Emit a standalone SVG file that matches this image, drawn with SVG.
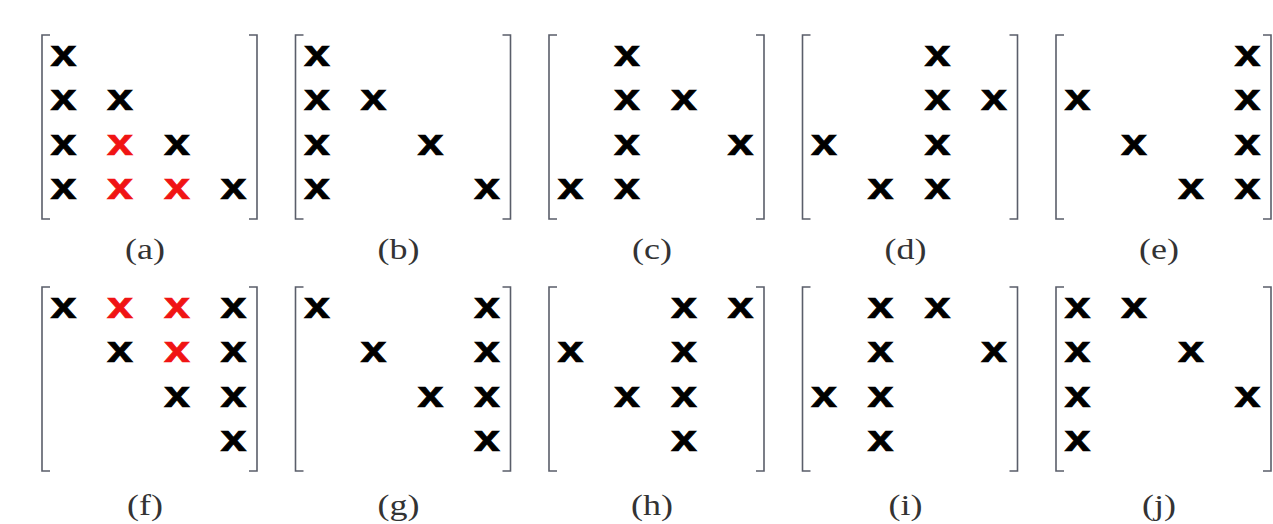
<svg xmlns="http://www.w3.org/2000/svg" width="1273" height="524" viewBox="0 0 1273 524">
<style>
.br{fill:none;stroke:#5a5e6a;stroke-width:1.6}
.x{font-family:"Liberation Sans",Arial,sans-serif;font-weight:bold;font-size:36px;fill:#000;stroke:#000;stroke-width:0.7}
.r{fill:#f01414;stroke:#f01414}
.lb{font-family:"Liberation Serif","Times New Roman",serif;font-size:30px;fill:#333;text-anchor:middle}
</style>
<defs>
<path id="brk" class="br" d="M8,0 H0 V184 H8 M207,0 H215 V184 H207"/>
</defs>
<rect width="1273" height="524" fill="#fff"/>

<g id="panel-a" transform="translate(42,35)">
<use href="#brk"/>
<text class="x" x="8.5" y="31" textLength="26" lengthAdjust="spacingAndGlyphs">x</text>
<text class="x" x="8.5" y="75" textLength="26" lengthAdjust="spacingAndGlyphs">x</text>
<text class="x" x="65" y="75" textLength="26" lengthAdjust="spacingAndGlyphs">x</text>
<text class="x" x="8.5" y="119.5" textLength="26" lengthAdjust="spacingAndGlyphs">x</text>
<text class="x r" x="65" y="119.5" textLength="26" lengthAdjust="spacingAndGlyphs">x</text>
<text class="x" x="122" y="119.5" textLength="26" lengthAdjust="spacingAndGlyphs">x</text>
<text class="x" x="8.5" y="163.5" textLength="26" lengthAdjust="spacingAndGlyphs">x</text>
<text class="x r" x="65" y="163.5" textLength="26" lengthAdjust="spacingAndGlyphs">x</text>
<text class="x r" x="122" y="163.5" textLength="26" lengthAdjust="spacingAndGlyphs">x</text>
<text class="x" x="178.5" y="163.5" textLength="26" lengthAdjust="spacingAndGlyphs">x</text>
<text class="lb" transform="translate(103,224) scale(1.2,1)">(a)</text>
</g>

<g id="panel-b" transform="translate(295.5,35)">
<use href="#brk"/>
<text class="x" x="8.5" y="31" textLength="26" lengthAdjust="spacingAndGlyphs">x</text>
<text class="x" x="8.5" y="75" textLength="26" lengthAdjust="spacingAndGlyphs">x</text>
<text class="x" x="65" y="75" textLength="26" lengthAdjust="spacingAndGlyphs">x</text>
<text class="x" x="8.5" y="119.5" textLength="26" lengthAdjust="spacingAndGlyphs">x</text>
<text class="x" x="122" y="119.5" textLength="26" lengthAdjust="spacingAndGlyphs">x</text>
<text class="x" x="8.5" y="163.5" textLength="26" lengthAdjust="spacingAndGlyphs">x</text>
<text class="x" x="178.5" y="163.5" textLength="26" lengthAdjust="spacingAndGlyphs">x</text>
<text class="lb" transform="translate(103,224) scale(1.2,1)">(b)</text>
</g>

<g id="panel-c" transform="translate(549,35)">
<use href="#brk"/>
<text class="x" x="65" y="31" textLength="26" lengthAdjust="spacingAndGlyphs">x</text>
<text class="x" x="65" y="75" textLength="26" lengthAdjust="spacingAndGlyphs">x</text>
<text class="x" x="122" y="75" textLength="26" lengthAdjust="spacingAndGlyphs">x</text>
<text class="x" x="65" y="119.5" textLength="26" lengthAdjust="spacingAndGlyphs">x</text>
<text class="x" x="178.5" y="119.5" textLength="26" lengthAdjust="spacingAndGlyphs">x</text>
<text class="x" x="8.5" y="163.5" textLength="26" lengthAdjust="spacingAndGlyphs">x</text>
<text class="x" x="65" y="163.5" textLength="26" lengthAdjust="spacingAndGlyphs">x</text>
<text class="lb" transform="translate(103,224) scale(1.2,1)">(c)</text>
</g>

<g id="panel-d" transform="translate(802.5,35)">
<use href="#brk"/>
<text class="x" x="122" y="31" textLength="26" lengthAdjust="spacingAndGlyphs">x</text>
<text class="x" x="122" y="75" textLength="26" lengthAdjust="spacingAndGlyphs">x</text>
<text class="x" x="178.5" y="75" textLength="26" lengthAdjust="spacingAndGlyphs">x</text>
<text class="x" x="8.5" y="119.5" textLength="26" lengthAdjust="spacingAndGlyphs">x</text>
<text class="x" x="122" y="119.5" textLength="26" lengthAdjust="spacingAndGlyphs">x</text>
<text class="x" x="65" y="163.5" textLength="26" lengthAdjust="spacingAndGlyphs">x</text>
<text class="x" x="122" y="163.5" textLength="26" lengthAdjust="spacingAndGlyphs">x</text>
<text class="lb" transform="translate(103,224) scale(1.2,1)">(d)</text>
</g>

<g id="panel-e" transform="translate(1056,35)">
<use href="#brk"/>
<text class="x" x="178.5" y="31" textLength="26" lengthAdjust="spacingAndGlyphs">x</text>
<text class="x" x="8.5" y="75" textLength="26" lengthAdjust="spacingAndGlyphs">x</text>
<text class="x" x="178.5" y="75" textLength="26" lengthAdjust="spacingAndGlyphs">x</text>
<text class="x" x="65" y="119.5" textLength="26" lengthAdjust="spacingAndGlyphs">x</text>
<text class="x" x="178.5" y="119.5" textLength="26" lengthAdjust="spacingAndGlyphs">x</text>
<text class="x" x="122" y="163.5" textLength="26" lengthAdjust="spacingAndGlyphs">x</text>
<text class="x" x="178.5" y="163.5" textLength="26" lengthAdjust="spacingAndGlyphs">x</text>
<text class="lb" transform="translate(103,224) scale(1.2,1)">(e)</text>
</g>

<g id="panel-f" transform="translate(42,287)">
<use href="#brk"/>
<text class="x" x="8.5" y="31" textLength="26" lengthAdjust="spacingAndGlyphs">x</text>
<text class="x r" x="65" y="31" textLength="26" lengthAdjust="spacingAndGlyphs">x</text>
<text class="x r" x="122" y="31" textLength="26" lengthAdjust="spacingAndGlyphs">x</text>
<text class="x" x="178.5" y="31" textLength="26" lengthAdjust="spacingAndGlyphs">x</text>
<text class="x" x="65" y="75" textLength="26" lengthAdjust="spacingAndGlyphs">x</text>
<text class="x r" x="122" y="75" textLength="26" lengthAdjust="spacingAndGlyphs">x</text>
<text class="x" x="178.5" y="75" textLength="26" lengthAdjust="spacingAndGlyphs">x</text>
<text class="x" x="122" y="119.5" textLength="26" lengthAdjust="spacingAndGlyphs">x</text>
<text class="x" x="178.5" y="119.5" textLength="26" lengthAdjust="spacingAndGlyphs">x</text>
<text class="x" x="178.5" y="163.5" textLength="26" lengthAdjust="spacingAndGlyphs">x</text>
<text class="lb" transform="translate(103,228) scale(1.2,1)">(f)</text>
</g>

<g id="panel-g" transform="translate(295.5,287)">
<use href="#brk"/>
<text class="x" x="8.5" y="31" textLength="26" lengthAdjust="spacingAndGlyphs">x</text>
<text class="x" x="178.5" y="31" textLength="26" lengthAdjust="spacingAndGlyphs">x</text>
<text class="x" x="65" y="75" textLength="26" lengthAdjust="spacingAndGlyphs">x</text>
<text class="x" x="178.5" y="75" textLength="26" lengthAdjust="spacingAndGlyphs">x</text>
<text class="x" x="122" y="119.5" textLength="26" lengthAdjust="spacingAndGlyphs">x</text>
<text class="x" x="178.5" y="119.5" textLength="26" lengthAdjust="spacingAndGlyphs">x</text>
<text class="x" x="178.5" y="163.5" textLength="26" lengthAdjust="spacingAndGlyphs">x</text>
<text class="lb" transform="translate(103,228) scale(1.2,1)">(g)</text>
</g>

<g id="panel-h" transform="translate(549,287)">
<use href="#brk"/>
<text class="x" x="122" y="31" textLength="26" lengthAdjust="spacingAndGlyphs">x</text>
<text class="x" x="178.5" y="31" textLength="26" lengthAdjust="spacingAndGlyphs">x</text>
<text class="x" x="8.5" y="75" textLength="26" lengthAdjust="spacingAndGlyphs">x</text>
<text class="x" x="122" y="75" textLength="26" lengthAdjust="spacingAndGlyphs">x</text>
<text class="x" x="65" y="119.5" textLength="26" lengthAdjust="spacingAndGlyphs">x</text>
<text class="x" x="122" y="119.5" textLength="26" lengthAdjust="spacingAndGlyphs">x</text>
<text class="x" x="122" y="163.5" textLength="26" lengthAdjust="spacingAndGlyphs">x</text>
<text class="lb" transform="translate(103,228) scale(1.2,1)">(h)</text>
</g>

<g id="panel-i" transform="translate(802.5,287)">
<use href="#brk"/>
<text class="x" x="65" y="31" textLength="26" lengthAdjust="spacingAndGlyphs">x</text>
<text class="x" x="122" y="31" textLength="26" lengthAdjust="spacingAndGlyphs">x</text>
<text class="x" x="65" y="75" textLength="26" lengthAdjust="spacingAndGlyphs">x</text>
<text class="x" x="178.5" y="75" textLength="26" lengthAdjust="spacingAndGlyphs">x</text>
<text class="x" x="8.5" y="119.5" textLength="26" lengthAdjust="spacingAndGlyphs">x</text>
<text class="x" x="65" y="119.5" textLength="26" lengthAdjust="spacingAndGlyphs">x</text>
<text class="x" x="65" y="163.5" textLength="26" lengthAdjust="spacingAndGlyphs">x</text>
<text class="lb" transform="translate(103,228) scale(1.2,1)">(i)</text>
</g>

<g id="panel-j" transform="translate(1056,287)">
<use href="#brk"/>
<text class="x" x="8.5" y="31" textLength="26" lengthAdjust="spacingAndGlyphs">x</text>
<text class="x" x="65" y="31" textLength="26" lengthAdjust="spacingAndGlyphs">x</text>
<text class="x" x="8.5" y="75" textLength="26" lengthAdjust="spacingAndGlyphs">x</text>
<text class="x" x="122" y="75" textLength="26" lengthAdjust="spacingAndGlyphs">x</text>
<text class="x" x="8.5" y="119.5" textLength="26" lengthAdjust="spacingAndGlyphs">x</text>
<text class="x" x="178.5" y="119.5" textLength="26" lengthAdjust="spacingAndGlyphs">x</text>
<text class="x" x="8.5" y="163.5" textLength="26" lengthAdjust="spacingAndGlyphs">x</text>
<text class="lb" transform="translate(103,228) scale(1.2,1)">(j)</text>
</g>
</svg>
